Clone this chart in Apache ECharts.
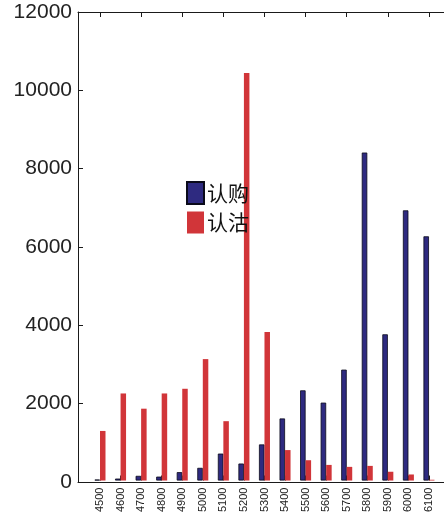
<!DOCTYPE html>
<html>
<head>
<meta charset="utf-8">
<script src="https://cdn.jsdelivr.net/npm/echarts@6/dist/echarts.min.js"></script>
<style>
html,body{margin:0;padding:0;background:#fff;}
#chart{width:444px;height:515px;}
</style>
</head>
<body>
<div id="chart"></div>
<script>
var strikes = ['4500','4600','4700','4800','4900','5000','5100','5200','5300','5400','5500','5600','5700','5800','5900','6000','6100'];
var callValues = [25, 50, 120, 100, 215, 325, 690, 435, 925, 1590, 2310, 1995, 2840, 8400, 3745, 6920, 6255];
var putValues = [1270, 2230, 1840, 2230, 2350, 3110, 1520, 10435, 3805, 780, 520, 400, 350, 375, 225, 155, 20];
var seriesNames = ['认购', '认沽'];
var yTicks = [0, 2000, 4000, 6000, 8000, 10000, 12000];

var chart = echarts.init(document.getElementById('chart'), null, {renderer: 'canvas'});
var axisColor = '#1a1a1a';
var band = 20.56;
var firstCenter = 100;
var gridLeft = firstCenter - band / 2;
var gridWidth = band * strikes.length;

var option = {
  animation: false,
  backgroundColor: '#fff',
  grid: [
    {left: 78, right: 0, top: 12, bottom: 33, containLabel: false},
    {left: gridLeft, width: gridWidth, top: 12, bottom: 33, containLabel: false}
  ],
  legend: {
    orient: 'vertical',
    left: 181,
    top: 176,
    itemWidth: 17,
    itemHeight: 22,
    itemGap: 6.5,
    icon: 'rect',
    data: seriesNames,
    textStyle: {fontFamily: 'Noto Sans CJK SC', fontSize: 21, color: '#111', padding: [0, 0, 0, -2]}
  },
  xAxis: [
    {gridIndex: 0, type: 'value', min: 0, max: 1, position: 'bottom',
     axisLine: {show: true, lineStyle: {color: axisColor, width: 1}},
     axisTick: {show: false}, axisLabel: {show: false}, splitLine: {show: false}},
    {gridIndex: 0, type: 'value', min: 0, max: 1, position: 'top',
     axisLine: {show: true, lineStyle: {color: axisColor, width: 1}},
     axisTick: {show: false}, axisLabel: {show: false}, splitLine: {show: false}},
    {gridIndex: 1, type: 'category', data: strikes, position: 'bottom', boundaryGap: true,
     axisLine: {show: false},
     axisTick: {show: true, inside: true, alignWithLabel: true, length: 5, lineStyle: {color: axisColor}},
     axisLabel: {show: true, rotate: 90, fontSize: 11, fontFamily: 'Liberation Sans', color: '#222', margin: 7, interval: 0},
     splitLine: {show: false}},
    {gridIndex: 1, type: 'category', data: strikes, position: 'top', boundaryGap: true,
     axisLine: {show: false},
     axisTick: {show: true, inside: true, alignWithLabel: true, length: 5, lineStyle: {color: axisColor}},
     axisLabel: {show: false}, splitLine: {show: false}}
  ],
  yAxis: [
    {gridIndex: 0, type: 'value', min: 0, max: 12000, interval: 2000,
     axisLine: {show: true, lineStyle: {color: axisColor, width: 1}},
     axisTick: {show: true, inside: true, length: 5, lineStyle: {color: axisColor}},
     axisLabel: {show: true, fontSize: 21, fontFamily: 'Liberation Sans', color: '#222', margin: 6,
       formatter: function (v) { return yTicks.indexOf(v) >= 0 ? String(v) : ''; }},
     splitLine: {show: false}},
    {gridIndex: 1, type: 'value', min: 0, max: 12000, interval: 2000, show: false,
     splitLine: {show: false}}
  ],
  series: [
    {name: seriesNames[0], type: 'bar', xAxisIndex: 2, yAxisIndex: 1, data: callValues,
     barWidth: 5.5, barGap: '0%',
     itemStyle: {color: '#2e2a80', borderColor: '#0a0a1a', borderWidth: 0.8}},
    {name: seriesNames[1], type: 'bar', xAxisIndex: 2, yAxisIndex: 1, data: putValues,
     barWidth: 5.5, barGap: '0%',
     itemStyle: {color: '#d13539'}}
  ]
};
chart.setOption(option);
</script>
</body>
</html>
